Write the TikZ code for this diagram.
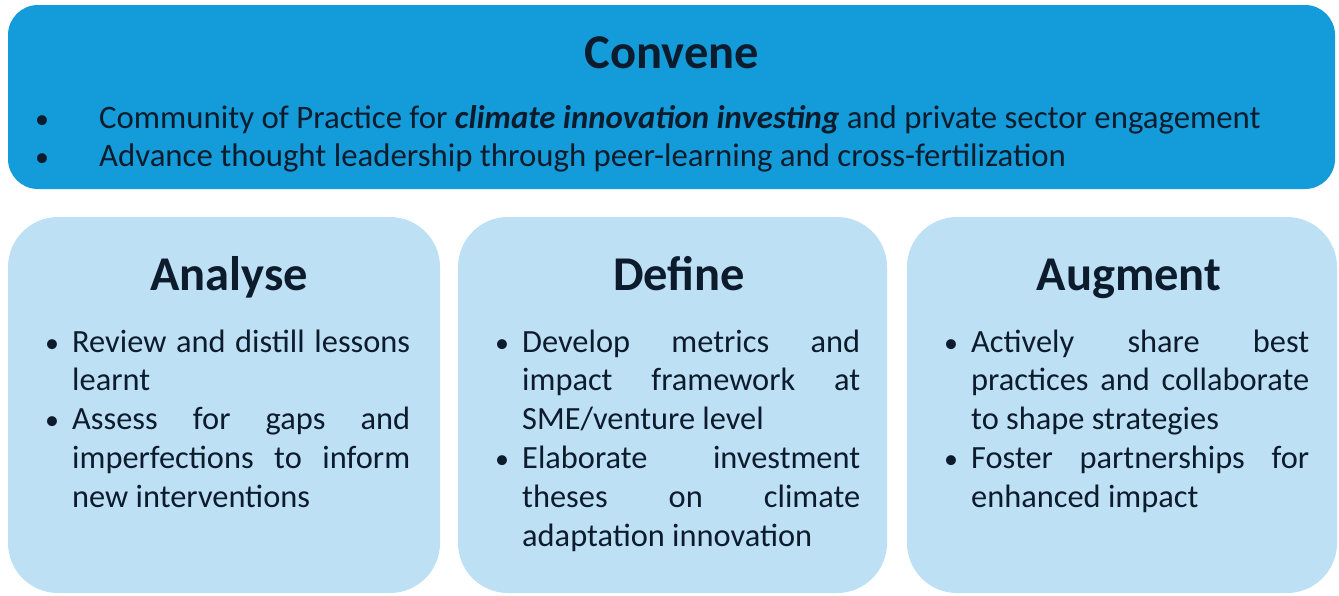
\documentclass[tikz,border=0pt]{standalone}
\usepackage{fontspec}
\setmainfont{Carlito}
\definecolor{convene}{HTML}{149BD9}
\definecolor{pillar}{HTML}{BEE0F5}
\definecolor{ink}{HTML}{0D1C2C}
\newcommand{\jline}[1]{\makebox[338pt][s]{#1}}
\tikzset{
  panel/.style={draw=none, rounded corners=50pt, fill=pillar, inner sep=0},
  heading/.style={anchor=base, inner sep=0, text=ink, font=\bfseries\fontsize{48.5}{52}\selectfont},
  topline/.style={anchor=base west, inner sep=0, text=ink, font=\fontsize{32.8}{38}\selectfont},
  txt/.style={anchor=base west, inner sep=0, text=ink, font=\fontsize{32.4}{38}\selectfont},
  dot/.style={anchor=base, inner sep=0, text=ink, font=\fontsize{28}{36}\selectfont},
}
\begin{document}
\begin{tikzpicture}[x=1pt,y=-1pt]
\useasboundingbox (0,0) rectangle (1339,595);

% top band
\node[draw=none, fill=convene, rounded corners=30pt, minimum width=1327pt, minimum height=184pt, inner sep=0] (top) at (671.5,97) {};
\node[heading] (conv) at (672,68) {Convene};
\node[dot] (tb1) at (42,128) {\textbullet};
\node[topline] (tl1) at (99,128) {Community of Practice for \textbf{\textit{climate innovation investing}} and private sector engagement};
\node[dot] (tb2) at (42,166) {\textbullet};
\node[topline] (tl2) at (99,166) {Advance thought leadership through peer-learning and cross-fertilization};

% three pillars
\node[panel, minimum width=432pt, minimum height=376pt] (p1) at (224,405) {};
\node[panel, minimum width=429pt, minimum height=376pt] (p2) at (672.5,405) {};
\node[panel, minimum width=430pt, minimum height=376pt] (p3) at (1122,405) {};

% Analyse
\node[heading] (h1) at (229,290) {Analyse};
\node[dot] (a1b) at (52,352) {\textbullet};
\node[txt] (a1) at (72,352) {\jline{Review and distill lessons}};
\node[txt] (a2) at (72,390.8) {learnt};
\node[dot] (a3b) at (52,429.6) {\textbullet};
\node[txt] (a3) at (72,429.6) {\jline{Assess for gaps and}};
\node[txt] (a4) at (72,468.4) {\jline{imperfections to inform}};
\node[txt] (a5) at (72,507.2) {new interventions};

% Define
\node[heading] (h2) at (679,290) {Define};
\node[dot] (d1b) at (502,352) {\textbullet};
\node[txt] (d1) at (522,352) {\jline{Develop metrics and}};
\node[txt] (d2) at (522,390.8) {\jline{impact framework at}};
\node[txt] (d3) at (522,429.6) {SME/venture level};
\node[dot] (d4b) at (502,468.4) {\textbullet};
\node[txt] (d4) at (522,468.4) {\jline{Elaborate investment}};
\node[txt] (d5) at (522,507.2) {\jline{theses on climate}};
\node[txt] (d6) at (522,546) {adaptation innovation};

% Augment
\node[heading] (h3) at (1129,290) {Augment};
\node[dot] (g1b) at (951,352) {\textbullet};
\node[txt] (g1) at (971,352) {\jline{Actively share best}};
\node[txt] (g2) at (971,390.8) {\jline{practices and collaborate}};
\node[txt] (g3) at (971,429.6) {to shape strategies};
\node[dot] (g4b) at (951,468.4) {\textbullet};
\node[txt] (g4) at (971,468.4) {\jline{Foster partnerships for}};
\node[txt] (g5) at (971,507.2) {enhanced impact};
\end{tikzpicture}
\end{document}
